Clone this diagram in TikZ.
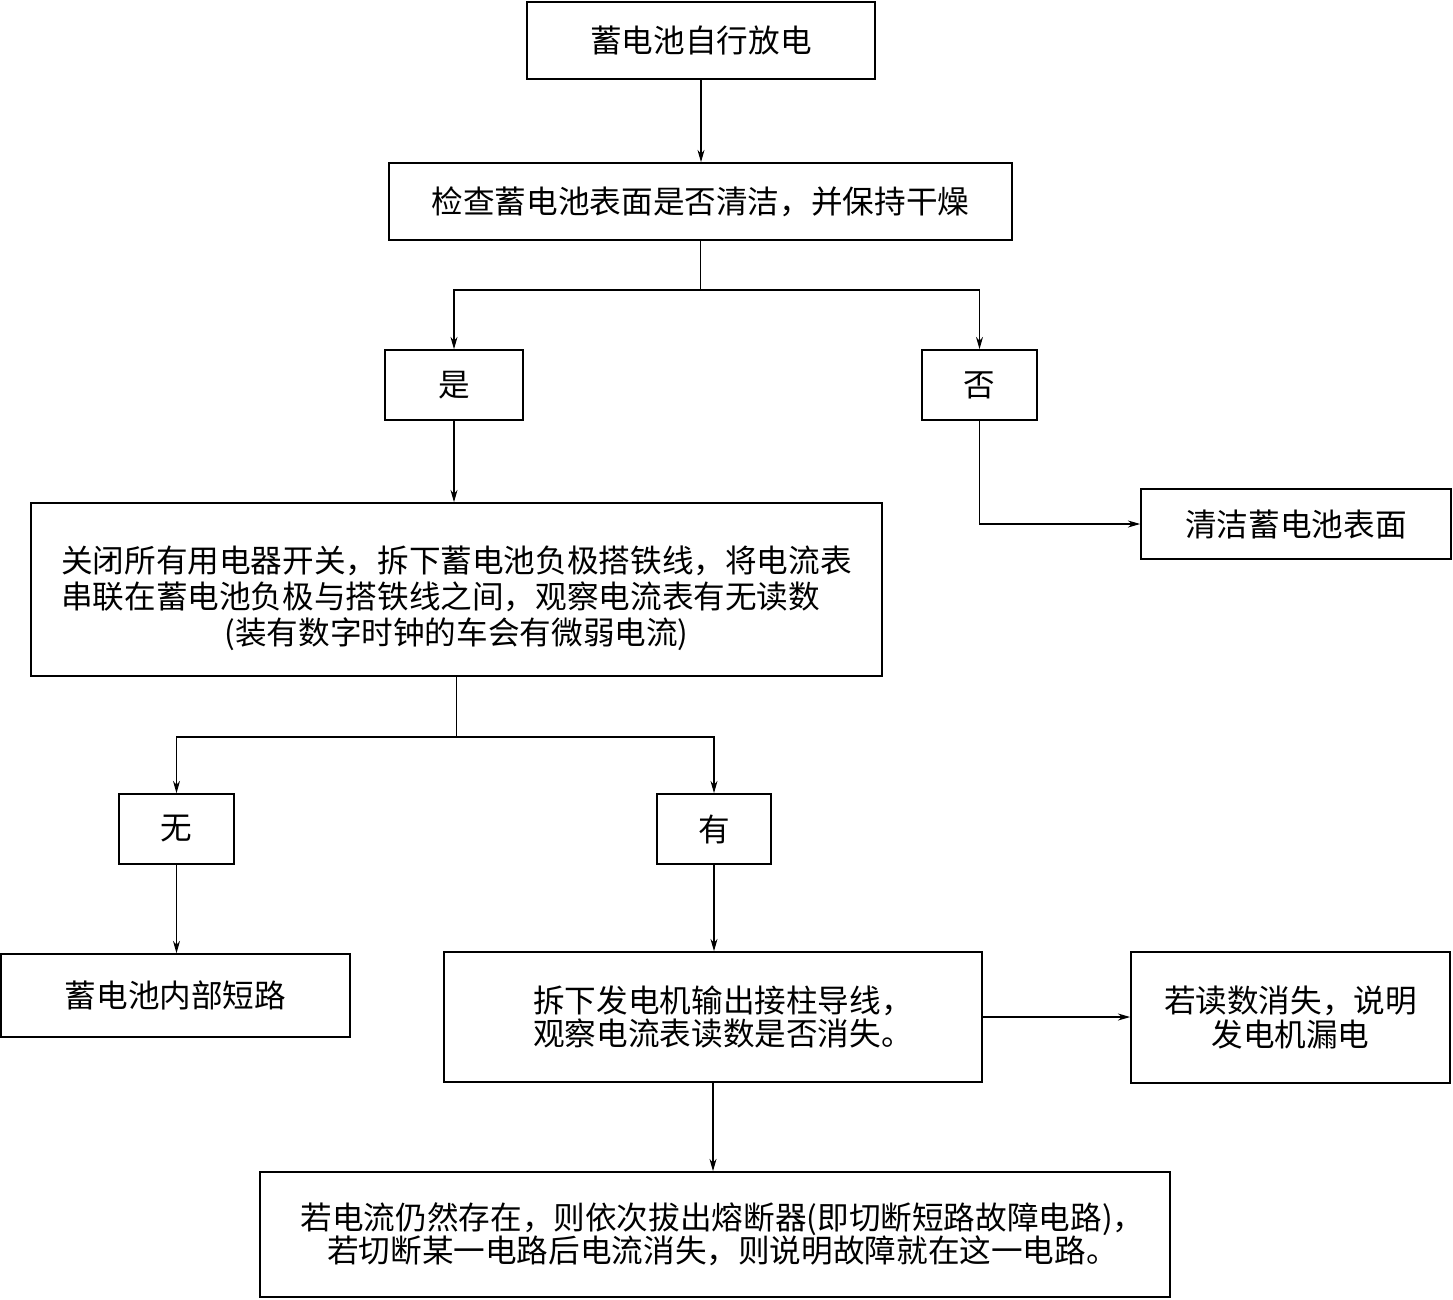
\documentclass[tikz,border=0pt]{standalone}
\usepackage{fontspec}
\newfontfamily\cjk{Noto Sans CJK SC}
\usepackage{tikz}
\usetikzlibrary{
  arrows.meta,
  positioning
}

\begin{document}
\begin{tikzpicture}[
  x=0.02cm, y=-0.02cm,
  box/.style={draw, line width=1pt, inner sep=0pt,
              font=\cjk\fontsize{18}{19}\selectfont, align=center},
  arrow/.style={-{Stealth[length=7pt, width=4pt]}, line width=0.6pt},
  link/.style={line width=0.6pt},
]
  \useasboundingbox (0,0) rectangle (1453,1299);

  % Top
  \node[box, minimum width=6.96cm, minimum height=1.54cm] (start) at (701,40.5)
    {蓄电池自行放电};
  \node[box, minimum width=12.46cm, minimum height=1.54cm] (check) at (700.5,201.5)
    {检查蓄电池表面是否清洁，并保持干燥};
  \draw[arrow] (start) -- (start |- check.north);

  % Clean or not
  \node[box, minimum width=2.76cm, minimum height=1.40cm] (yes) at (454,385) {是};
  \node[box, minimum width=2.30cm, minimum height=1.40cm] (no) at (979.5,385) {否};
  \node[box, minimum width=6.20cm, minimum height=1.40cm] (clean) at (1296,524)
    {清洁蓄电池表面};
  \coordinate (fork1) at (700.5,290);
  \draw[link] (check) -- (fork1);
  \draw[arrow] (fork1) -| (yes);
  \draw[arrow] (fork1) -| (no);
  \draw[arrow] (no) |- (clean);

  % Ammeter test
  \node[box, minimum width=17.02cm, minimum height=3.46cm] (ammeter) at (456.5,589.5)
    {\raisebox{-6pt}[\height][\depth]{%
     \renewcommand{\arraystretch}{0.95}%
     \begin{tabular}{@{}l@{}}
       关闭所有用电器开关，拆下蓄电池负极搭铁线，将电流表\\
       串联在蓄电池负极与搭铁线之间，观察电流表有无读数\\
       \multicolumn{1}{@{}c@{}}{(装有数字时钟的车会有微弱电流)}
     \end{tabular}}};
  \draw[arrow] (yes) -- (yes |- ammeter.north);

  \node[box, minimum width=2.30cm, minimum height=1.40cm] (none) at (176.5,829) {无};
  \node[box, minimum width=2.28cm, minimum height=1.40cm] (some) at (714,829) {有};
  \coordinate (fork2) at (456.5,737);
  \draw[link] (ammeter) -- (fork2);
  \draw[arrow] (fork2) -| (none);
  \draw[arrow] (fork2) -| (some);

  % Results
  \node[box, minimum width=6.98cm, minimum height=1.66cm] (short) at (175.5,995.5)
    {蓄电池内部短路};
  \node[box, minimum width=10.76cm, minimum height=2.60cm] (gen) at (713,1017)
    {\hspace*{0.4cm}拆下发电机输出接柱导线，\\\hspace*{0.4cm}观察电流表读数是否消失。};
  \node[box, minimum width=6.38cm, minimum height=2.62cm] (leak) at (1290.5,1017.5)
    {若读数消失，说明\\发电机漏电};
  \node[box, minimum width=18.20cm, minimum height=2.50cm] (fuse) at (715,1234.5)
    {\hspace*{0.3cm}若电流仍然存在，则依次拔出熔断器(即切断短路故障电路)，\\
     \hspace*{0.3cm}若切断某一电路后电流消失，则说明故障就在这一电路。};

  \draw[arrow] (none) -- (none |- short.north);
  \draw[arrow] (some) -- (some |- gen.north);
  \draw[arrow] (gen) -- (gen -| leak.west);
  \draw[arrow] (gen) -- (gen |- fuse.north);

\end{tikzpicture}
\end{document}
